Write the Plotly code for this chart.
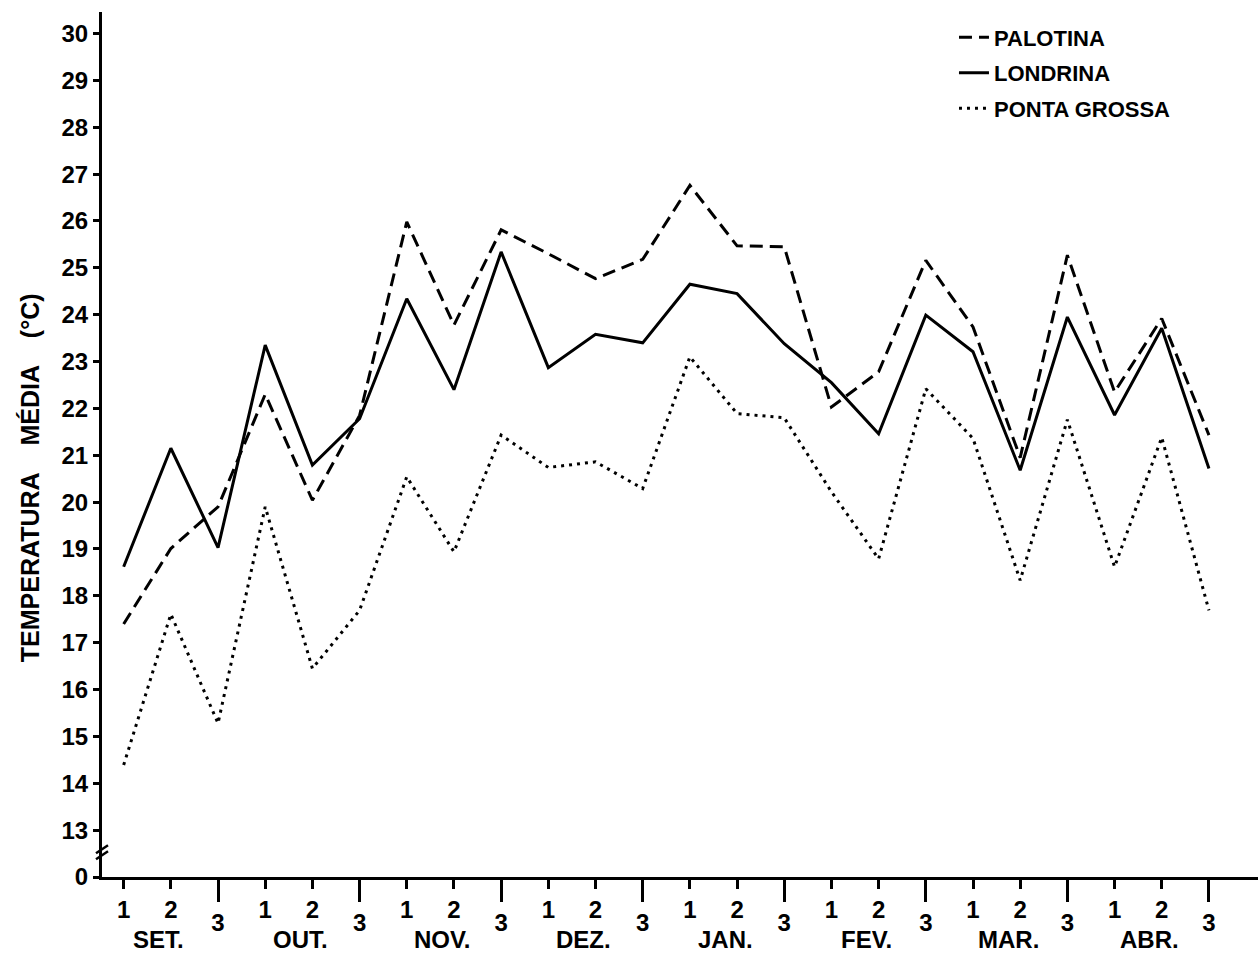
import plotly.graph_objects as go

# Ten-day periods (decêndios) from September to April
months = ["SET.", "OUT.", "NOV.", "DEZ.", "JAN.", "FEV.", "MAR.", "ABR."]
decades = ["1", "2", "3"]
periods = [f"{m} {d}" for m in months for d in decades]

# Mean temperature per ten-day period (°C)
palotina = [17.40, 19.01, 19.90, 22.30, 20.04, 21.85, 25.98, 23.78, 25.81, 25.30, 24.77, 25.18,
            26.76, 25.47, 25.45, 22.03, 22.78, 25.16, 23.74, 20.95, 25.27, 22.35, 23.92, 21.43]
londrina = [18.62, 21.15, 19.03, 23.35, 20.79, 21.78, 24.34, 22.40, 25.34, 22.87, 23.58, 23.40,
            24.65, 24.45, 23.38, 22.55, 21.46, 23.99, 23.21, 20.68, 23.95, 21.86, 23.71, 20.72]
ponta_grossa = [14.39, 17.61, 15.28, 19.90, 16.45, 17.69, 20.54, 18.94, 21.43, 20.74, 20.86, 20.29,
                23.10, 21.89, 21.80, 20.22, 18.79, 22.42, 21.36, 18.33, 21.76, 18.62, 21.38, 17.69]

# Y axis: broken scale, the baseline stands for 0 and the labelled range is 13–30
y_ticks = list(range(13, 31))
y_base = 12

FONT = "Liberation Sans, Arial, sans-serif"
xi = list(range(len(periods)))

fig = go.Figure()

series = [
    ("PALOTINA", palotina, "13px,7px"),
    ("LONDRINA", londrina, "solid"),
    ("PONTA GROSSA", ponta_grossa, "3px,5px"),
]
for name, vals, dash in series:
    fig.add_trace(go.Scatter(
        x=xi, y=vals, name=name, mode="lines", legendgroup=name,
        line=dict(color="black", width=3, dash=dash),
    ))

# carrier trace for the secondary tick axis (third decade ticks)
fig.add_trace(go.Scatter(
    x=xi, y=londrina, xaxis="x2", mode="lines", showlegend=False,
    hoverinfo="skip", line=dict(color="rgba(0,0,0,0)", width=0),
))

first_second = [i for i in xi if i % 3 != 2]
third = [i for i in xi if i % 3 == 2]
x_range = [-0.459, 24.04]

tick_font = dict(family=FONT, size=24, color="black", weight="bold")

fig.update_layout(
    width=1258, height=954,
    margin=dict(l=102, r=0, t=12, b=77),
    paper_bgcolor="white", plot_bgcolor="white",
    font=dict(family=FONT, color="black", weight="bold"),
    showlegend=True,
    legend=dict(
        x=0.737, y=0.995, xanchor="left", yanchor="top",
        font=dict(family=FONT, size=22, color="black", weight="bold"),
        bgcolor="rgba(0,0,0,0)", tracegroupgap=4,
    ),
    xaxis=dict(
        range=x_range, showgrid=False, zeroline=False,
        showline=True, linewidth=3, linecolor="black",
        tickmode="array", tickvals=first_second,
        ticktext=[periods[i].split()[1] for i in first_second],
        ticks="outside", ticklen=9, tickwidth=2.5, tickcolor="black",
        tickfont=tick_font,
    ),
    xaxis2=dict(
        range=x_range, overlaying="x", anchor="y", side="bottom",
        showgrid=False, zeroline=False, showline=False,
        tickmode="array", tickvals=third,
        ticktext=[periods[i].split()[1] for i in third],
        ticks="outside", ticklen=24, tickwidth=2.5, tickcolor="black",
        tickfont=tick_font,
    ),
    yaxis=dict(
        range=[y_base, 30.46], showgrid=False, zeroline=False,
        showline=True, linewidth=3, linecolor="black",
        tickmode="array", tickvals=[y_base] + y_ticks,
        ticktext=["0"] + [str(v) for v in y_ticks],
        ticks="outside", ticklen=6, tickwidth=2.5, tickcolor="black",
        tickfont=tick_font,
    ),
)

# y axis title, set a little below the plot centre
fig.add_annotation(
    x=0, y=0.461, xref="paper", yref="paper", xshift=-72,
    text="TEMPERATURA    MÉDIA    (°C)", textangle=-90, showarrow=False,
    xanchor="center", yanchor="middle",
    font=dict(family=FONT, size=25, color="black", weight="bold"),
)

# month names under the second decade of each month
for k, m in enumerate(months):
    fig.add_annotation(
        x=3 * k + 1, y=-0.0717, xref="x", yref="paper", text=m,
        showarrow=False, xshift=-12, yanchor="middle",
        font=dict(family=FONT, size=24, color="black", weight="bold"),
    )

# axis break marks on the y axis
for off in (-3, 3):
    fig.add_shape(
        type="line", xref="paper", yref="y", xsizemode="pixel", ysizemode="pixel",
        xanchor=0, yanchor=y_base + 0.53, x0=-6, x1=6, y0=off - 4, y1=off + 4,
        line=dict(color="black", width=2.5),
    )

fig.write_html("out.html")
